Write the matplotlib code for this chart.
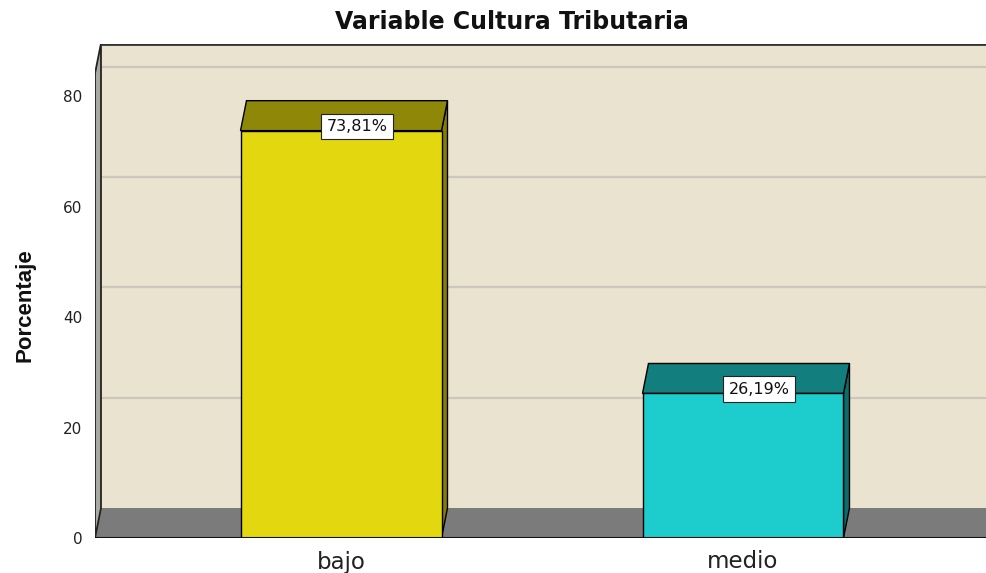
import matplotlib
matplotlib.use("Agg")
import matplotlib.pyplot as plt
from matplotlib.patches import Polygon

# data
categories = ["bajo", "medio"]
percentages = [73.81, 26.19]
value_labels = ["73,81%", "26,19%"]
ytick_values = [0, 20, 40, 60, 80]

# colours: front, top, side
front_colors = ["#E3D70F", "#1DCCCC"]
top_colors = ["#8F8708", "#127E7E"]
side_colors = ["#857D04", "#0E6B6B"]
wall_color = "#EAE3CF"
floor_color = "#7B7B7B"
grid_color = "#CBC7BC"

fig = plt.figure(figsize=(9.87, 5.73), dpi=100)
ax = fig.add_axes([95 / 987, 35 / 573, 892 / 987, 494.5 / 573])

xmin, xmax = -0.612, 1.607
ymax = 89.6
dx, dy = 0.0149, 5.43     # depth offset of the 3D look
bar_w = 0.5

ax.set_xlim(xmin, xmax)
ax.set_ylim(0, ymax)
for s in ax.spines.values():
    s.set_visible(False)
ax.patch.set_visible(False)

# back wall, floor and left wall
ax.add_patch(Polygon([(xmin + dx, dy), (xmax, dy), (xmax, ymax), (xmin + dx, ymax)],
                     closed=True, facecolor=wall_color, edgecolor="none", zorder=1))
ax.add_patch(Polygon([(xmin, 0), (xmax, 0), (xmax, dy), (xmin + dx, dy)],
                     closed=True, facecolor=floor_color, edgecolor="none", zorder=1))
# gridlines on back wall
for v in ytick_values[1:]:
    ax.plot([xmin + dx, xmax], [v + dy, v + dy], color=grid_color, lw=1.6, zorder=2)

ax.add_patch(Polygon([(xmin, 0), (xmin + dx, dy), (xmin + dx, ymax), (xmin, ymax - dy)],
                     closed=True, facecolor="#A9A9A4", edgecolor="#222222", lw=1.3, zorder=3))
ax.plot([xmin + dx, xmax], [ymax - 0.15, ymax - 0.15], color="#333333", lw=2, zorder=3,
        solid_capstyle="butt")
ax.plot([xmin, xmax], [0, 0], color="#111111", lw=1.5, zorder=6)

# 3D bars
for i, v in enumerate(percentages):
    xl, xr = i - bar_w / 2, i + bar_w / 2
    ax.add_patch(Polygon([(xr, 0), (xr + dx, dy), (xr + dx, v + dy), (xr, v)],
                         closed=True, facecolor=side_colors[i], edgecolor="black", lw=1, zorder=4))
    ax.add_patch(Polygon([(xl, v), (xl + dx, v + dy), (xr + dx, v + dy), (xr, v)],
                         closed=True, facecolor=top_colors[i], edgecolor="black", lw=1, zorder=4))
    ax.add_patch(Polygon([(xl, 0), (xr, 0), (xr, v), (xl, v)],
                         closed=True, facecolor=front_colors[i], edgecolor="black", lw=1, zorder=5))
    ax.text(i + 0.04, v + 0.8, value_labels[i], ha="center", va="center", fontsize=11.5,
            family="DejaVu Sans", color="#111111", zorder=7,
            bbox=dict(boxstyle="square,pad=0.32", facecolor="white", edgecolor="#222222", lw=0.8))

ax.set_xticks(range(len(categories)))
ax.set_xticklabels(categories, fontsize=16.5, family="DejaVu Sans", color="#222222")
ax.set_yticks(ytick_values)
ax.set_yticklabels([str(v) for v in ytick_values], fontsize=11, family="DejaVu Sans",
                   color="#222222")
ax.tick_params(axis="x", length=0, pad=9)
ax.tick_params(axis="y", length=0, pad=9)

fig.text(512 / 987, 1 - 22 / 573, "Variable Cultura Tributaria", ha="center", va="center",
         fontsize=17, fontweight="bold", family="DejaVu Sans", color="#111111")
fig.text(25 / 987, 1 - 305 / 573, "Porcentaje", ha="center", va="center", rotation=90,
         fontsize=16, fontweight="bold", family="Liberation Sans", color="#111111")

fig.savefig("out.png", dpi=100)
